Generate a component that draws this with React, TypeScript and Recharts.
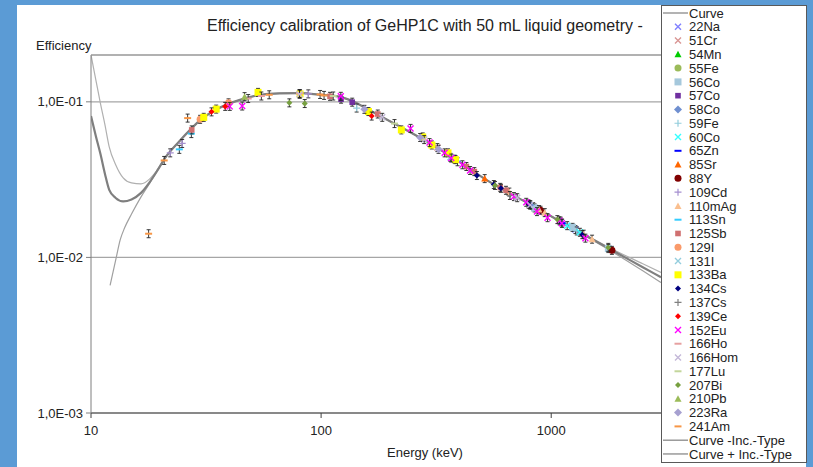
import React from 'react';
import { ComposedChart, Line, Scatter, XAxis, YAxis, CartesianGrid, ReferenceLine } from 'recharts';

type Pt = [number, number];

// fitted curves (energy keV / efficiency)
const curveE = [10, 10.5, 11, 11.5, 12, 12.8, 13.8, 15, 16.5, 18, 19.5, 21, 24, 27.5, 30, 33.5, 39.5, 44.4, 52.7, 66, 81, 100, 121, 138, 165, 200, 220, 300, 400, 514, 800, 1200, 1800, 2500, 3000];
const curveEff = [0.081, 0.06, 0.046, 0.0344, 0.0272, 0.0241, 0.0229, 0.0236, 0.026, 0.0305, 0.0365, 0.0436, 0.055, 0.068, 0.0768, 0.086, 0.097, 0.103, 0.11, 0.1135, 0.1137, 0.111, 0.1076, 0.1005, 0.0872, 0.0748, 0.0694, 0.0535, 0.041, 0.032, 0.0221, 0.0158, 0.01132, 0.00865, 0.00745];
const curveMinusE = [10, 10.5, 11, 11.5, 12, 12.8, 13.8, 15, 16.5, 18, 19.5, 21, 24, 27.5, 30, 33.5, 39.5, 44.4, 52.7, 66, 81, 100, 121, 138, 165, 200, 220, 300, 400, 514, 800, 1200, 1800, 2500, 3000];
const curveMinusEff = [0.2, 0.138, 0.097, 0.0711, 0.0514, 0.0394, 0.0324, 0.0301, 0.0297, 0.032, 0.0368, 0.0436, 0.055, 0.068, 0.0768, 0.086, 0.097, 0.103, 0.11, 0.1135, 0.1137, 0.111, 0.1076, 0.1005, 0.0872, 0.0748, 0.0694, 0.0535, 0.041, 0.032, 0.0221, 0.0159, 0.0115, 0.0091, 0.008];
const curvePlusE = [12.1, 12.8, 13.4, 14, 15, 16.5, 18, 19.5, 21, 24, 27.5, 30, 33.5, 39.5, 44.4, 52.7, 66, 81, 100, 121, 138, 165, 200, 220, 300, 400, 514, 800, 1200, 1800, 2500, 3000];
const curvePlusEff = [0.0066, 0.0096, 0.013, 0.0155, 0.019, 0.0245, 0.03, 0.0363, 0.0436, 0.055, 0.068, 0.0768, 0.086, 0.097, 0.103, 0.11, 0.1135, 0.1137, 0.111, 0.1076, 0.1005, 0.0872, 0.0748, 0.0694, 0.0535, 0.041, 0.032, 0.0221, 0.0157, 0.0111, 0.0082, 0.0069];

// measured points per nuclide: [energy keV, efficiency]
const na22: Pt[] = [[1274.5, 0.0151]];
const cr51: Pt[] = [[320.1, 0.0508]];
const mn54: Pt[] = [[834.8, 0.0212]];
const fe55: Pt[] = [];
const co56: Pt[] = [[846.8, 0.0208], [1238.3, 0.0156], [1771.4, 0.0114]];
const co57: Pt[] = [[122.1, 0.104], [136.5, 0.0995]];
const co58: Pt[] = [[810.8, 0.0218]];
const fe59: Pt[] = [[142.7, 0.0912], [1099.2, 0.0171], [1291.6, 0.0148]];
const co60: Pt[] = [[1173.2, 0.016], [1332.5, 0.0145]];
const zn65: Pt[] = [[1115.5, 0.0166]];
const sr85: Pt[] = [[514.0, 0.0321]];
const y88: Pt[] = [[898.0, 0.0201], [1836.1, 0.0111]];
const cd109: Pt[] = [[22.1, 0.047], [24.9, 0.054], [88.0, 0.1125]];
const ag110m: Pt[] = [[657.8, 0.0263], [884.7, 0.0203], [937.5, 0.0194], [1384.3, 0.0141], [1505.0, 0.0131]];
const sn113: Pt[] = [[24.2, 0.0495], [27.3, 0.0625], [391.7, 0.0412]];
const sb125: Pt[] = [[27.4, 0.066], [109.3, 0.1085], [176.3, 0.0835], [380.5, 0.0428], [427.9, 0.0384], [463.4, 0.0356], [600.6, 0.0282], [635.9, 0.027]];
const i129: Pt[] = [[29.8, 0.0772], [39.6, 0.0985]];
const i131: Pt[] = [[364.5, 0.044]];
const ba133: Pt[] = [[30.9, 0.0795], [35.0, 0.0898], [53.2, 0.115], [81.0, 0.1125], [160.6, 0.0866], [223.2, 0.066], [276.4, 0.0595], [302.9, 0.0528], [356.0, 0.047], [383.8, 0.0425]];
const cs134: Pt[] = [[475.4, 0.0336], [563.2, 0.0294], [604.7, 0.0278], [795.9, 0.0221], [801.9, 0.0219], [1365.2, 0.014]];
const cs137: Pt[] = [[661.7, 0.025]];
const ce139: Pt[] = [[33.4, 0.0862], [38.3, 0.0935], [165.9, 0.081]];
const eu152: Pt[] = [[40.1, 0.0935], [45.4, 0.094], [121.8, 0.1085], [244.7, 0.0675], [295.9, 0.0547], [344.3, 0.047], [367.8, 0.0435], [411.1, 0.0394], [444.0, 0.0362], [688.7, 0.0246], [778.9, 0.0226], [867.4, 0.0197], [964.1, 0.018], [1085.8, 0.0172], [1112.1, 0.0166], [1408.0, 0.0133]];
const ho166: Pt[] = [[48.2, 0.105], [55.0, 0.109], [80.6, 0.113]];
const ho166m: Pt[] = [[80.6, 0.112], [184.4, 0.0795], [280.5, 0.0572], [711.7, 0.0242], [810.3, 0.0217]];
const lu177: Pt[] = [[112.9, 0.109], [208.4, 0.0725]];
const bi207: Pt[] = [[72.8, 0.0985], [84.9, 0.0975], [569.7, 0.029], [1063.7, 0.0175], [1770.2, 0.0116]];
const pb210: Pt[] = [[46.5, 0.108]];
const ra223: Pt[] = [[154.2, 0.0895], [269.5, 0.059], [323.9, 0.0495]];
const am241: Pt[] = [[17.8, 0.0142], [20.8, 0.042], [26.3, 0.0786], [59.5, 0.111], [99.0, 0.1115], [103.0, 0.11]];

const nuclideNames = ['22Na', '51Cr', '54Mn', '55Fe', '56Co', '57Co', '58Co', '59Fe', '60Co', '65Zn', '85Sr', '88Y', '109Cd', '110mAg', '113Sn', '125Sb', '129I', '131I', '133Ba', '134Cs', '137Cs', '139Ce', '152Eu', '166Ho', '166Hom', '177Lu', '207Bi', '210Pb', '223Ra', '241Am'];
const nuclidePoints = [na22, cr51, mn54, fe55, co56, co57, co58, fe59, co60, zn65, sr85, y88, cd109, ag110m, sn113, sb125, i129, i131, ba133, cs134, cs137, ce139, eu152, ho166, ho166m, lu177, bi207, pb210, ra223, am241];

// marker kind + colour, same order as nuclideNames
const markers: [string, string][] = [
  ['x', '#7f7fff'], ['x', '#d99694'], ['tri', '#00cc00'], ['circle', '#9bbb59'], ['square', '#a5c8dc'],
  ['sqsmall', '#7030a0'], ['diamond', '#6f8fd0'], ['plus', '#92cddc'], ['x', '#33ffff'], ['dash', '#0000ff'],
  ['tri', '#ff6600'], ['circle', '#800000'], ['plus', '#a58fd0'], ['tri', '#fabf8f'], ['dash', '#33ccff'],
  ['sqsmall', '#d07070'], ['circle', '#fa9a6a'], ['x', '#93cddd'], ['square', '#ffff00'], ['dia', '#000080'],
  ['plus', '#808080'], ['dia', '#ff0000'], ['x', '#ff00ff'], ['dash', '#e6a0a0'], ['x', '#c4b8d8'],
  ['dash', '#c3d69b'], ['dia', '#77a040'], ['tri', '#9bbb59'], ['diamond', '#a6a0d0'], ['dash', '#f79646'],
];

const FONT = '"Liberation Sans", Arial, sans-serif';

const toRows = (xs: number[], ys: number[]) => xs.map((x, i) => ({ x, y: ys[i] }));

function Marker({ kind, color, x, y }: { kind: string; color: string; x: number; y: number }) {
  switch (kind) {
    case 'x':
      return <path d={`M${x - 3},${y - 3}L${x + 3},${y + 3}M${x - 3},${y + 3}L${x + 3},${y - 3}`} stroke={color} strokeWidth={1.4} fill="none" />;
    case 'plus':
      return <path d={`M${x - 3.5},${y}L${x + 3.5},${y}M${x},${y - 3.5}L${x},${y + 3.5}`} stroke={color} strokeWidth={1.2} fill="none" />;
    case 'tri':
      return <polygon points={`${x},${y - 3.5} ${x + 3.5},${y + 3} ${x - 3.5},${y + 3}`} fill={color} />;
    case 'circle':
      return <circle cx={x} cy={y} r={3.5} fill={color} />;
    case 'square':
      return <rect x={x - 3.5} y={y - 3.5} width={7} height={7} fill={color} />;
    case 'sqsmall':
      return <rect x={x - 2.8} y={y - 2.8} width={5.6} height={5.6} fill={color} />;
    case 'diamond':
      return <polygon points={`${x},${y - 4} ${x + 4},${y} ${x},${y + 4} ${x - 4},${y}`} fill={color} />;
    case 'dia':
      return <polygon points={`${x},${y - 3} ${x + 3},${y} ${x},${y + 3} ${x - 3},${y}`} fill={color} />;
    case 'dash':
      return <line x1={x - 3.5} y1={y} x2={x + 3.5} y2={y} stroke={color} strokeWidth={2} />;
    default:
      return null;
  }
}

function pointShape(kind: string, color: string) {
  return (p: any) => {
    const { cx, cy } = p;
    if (cx == null || cy == null) return <g />;
    return (
      <g>
        <path d={`M${cx},${cy - 4}L${cx},${cy + 4}M${cx - 2},${cy - 4}L${cx + 2},${cy - 4}M${cx - 2},${cy + 4}L${cx + 2},${cy + 4}`} stroke="#222" strokeWidth={0.9} fill="none" />
        <Marker kind={kind} color={color} x={cx} y={cy} />
      </g>
    );
  };
}

const yFmt = (v: number) => '1,0E-' + String(Math.round(-Math.log10(v))).padStart(2, '0');

function LegendBox() {
  const rows: { label: string; kind: string; color: string }[] = [
    { label: 'Curve', kind: 'line', color: '#808080' },
    ...nuclideNames.map((n, i) => ({ label: n, kind: markers[i][0], color: markers[i][1] })),
    { label: 'Curve -Inc.-Type', kind: 'line', color: '#808080' },
    { label: 'Curve + Inc.-Type', kind: 'line', color: '#808080' },
  ];
  return (
    <svg width={146} height={458} style={{ position: 'absolute', left: 661, top: 5 }}>
      <rect x={0.5} y={0.5} width={145} height={457} fill="#fff" stroke="#595959" />
      {rows.map((r, i) => {
        const cy = 8 + i * 13.78;
        return (
          <g key={r.label}>
            {r.kind === 'line'
              ? <line x1={2} y1={cy} x2={27} y2={cy} stroke={r.color} strokeWidth={1.2} />
              : <Marker kind={r.kind} color={r.color} x={17} y={cy} />}
            <text x={28} y={cy + 4.6} fontSize={13} fill="#222" fontFamily={FONT}>{r.label}</text>
          </g>
        );
      })}
    </svg>
  );
}

export default function App() {
  return (
    <div style={{ position: 'absolute', left: 0, top: 0, width: 813, height: 467, background: '#5b9bd5', overflow: 'hidden', fontFamily: FONT }}>
      <div style={{ position: 'absolute', left: 17, top: 5, width: 789, height: 462, background: '#fff' }} />
      <div style={{ position: 'absolute', left: 0, top: 0 }}>
        <ComposedChart width={813} height={467} margin={{ top: 55, right: 152, bottom: 24, left: 11 }}>
          <CartesianGrid horizontal vertical={false} stroke="#a6a6a6" strokeWidth={1.2} />
          <ReferenceLine y={0.2} stroke="#a6a6a6" strokeWidth={1.5} ifOverflow="extendDomain" />
          <XAxis
            type="number"
            dataKey="x"
            scale="log"
            domain={[10, 3000]}
            allowDataOverflow
            ticks={[10, 100, 1000]}
            height={30}
            tickSize={5}
            tickMargin={8}
            stroke="#404040"
            tick={{ fontSize: 13, fill: '#222', fontFamily: FONT }}
          />
          <YAxis
            type="number"
            dataKey="y"
            scale="log"
            domain={[0.001, 0.2]}
            allowDataOverflow
            ticks={[0.001, 0.01, 0.1]}
            tickFormatter={yFmt}
            width={80}
            tickSize={5}
            tickMargin={3}
            stroke="#7f7f7f"
            tick={{ fontSize: 13, fill: '#222', fontFamily: FONT }}
          />
          <Line data={toRows(curveMinusE, curveMinusEff)} dataKey="y" type="monotone" stroke="#b0b0b0" strokeWidth={1.2} dot={false} isAnimationActive={false} />
          <Line data={toRows(curvePlusE, curvePlusEff)} dataKey="y" type="monotone" stroke="#a0a0a0" strokeWidth={1.2} dot={false} isAnimationActive={false} />
          <Line data={toRows(curveE, curveEff)} dataKey="y" type="monotone" stroke="#7f7f7f" strokeWidth={2.2} dot={false} isAnimationActive={false} />
          {nuclidePoints.map((pts, i) => (
            <Scatter
              key={nuclideNames[i]}
              name={nuclideNames[i]}
              data={pts.map(([x, y]) => ({ x, y }))}
              shape={pointShape(markers[i][0], markers[i][1])}
              isAnimationActive={false}
            />
          ))}
        </ComposedChart>
      </div>
      <svg width={813} height={467} style={{ position: 'absolute', left: 0, top: 0, pointerEvents: 'none' }}>
        <text x={207} y={31} fontSize={16} fill="#222" fontFamily={FONT}>Efficiency calibration of GeHP1C with 50 mL liquid geometry -</text>
        <text x={36} y={50} fontSize={13} fill="#222" fontFamily={FONT}>Efficiency</text>
        <text x={425} y={457} fontSize={13} fill="#222" fontFamily={FONT} textAnchor="middle">Energy (keV)</text>
      </svg>
      <LegendBox />
    </div>
  );
}
